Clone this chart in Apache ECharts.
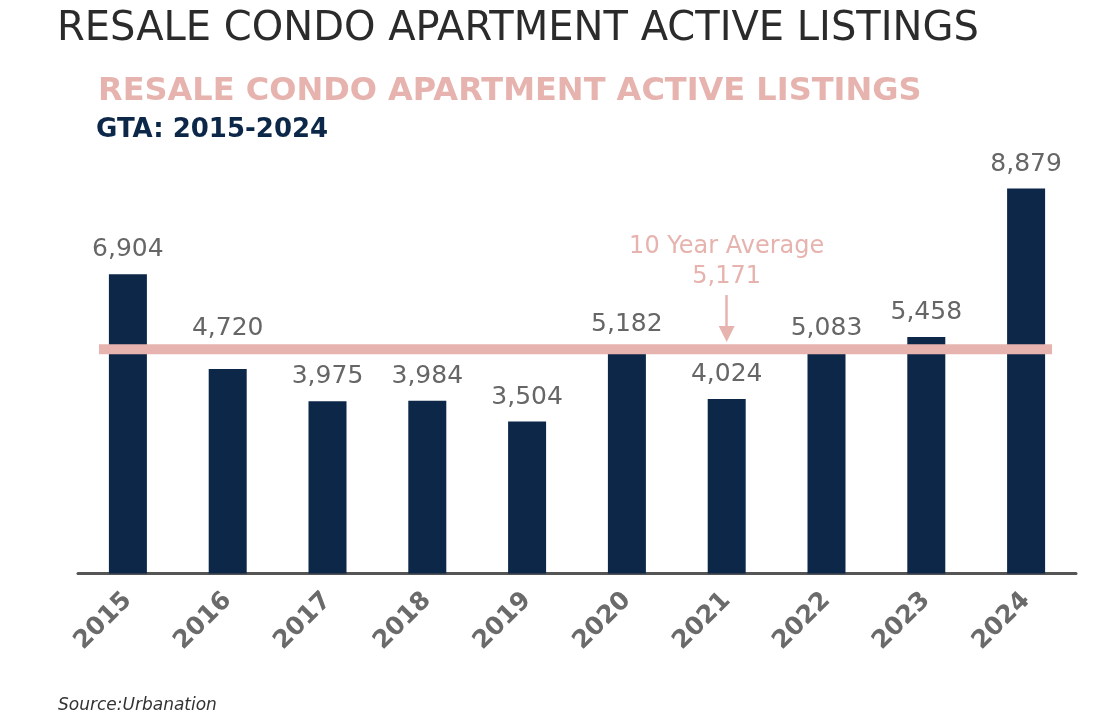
<!DOCTYPE html>
<html>
<head>
<meta charset="utf-8">
<script src="https://cdn.jsdelivr.net/npm/echarts@6/dist/echarts.min.js"></script>
<style>
html,body{margin:0;padding:0;background:#fff;}
#chart{width:1102px;height:726px;}
</style>
</head>
<body>
<div id="chart"></div>
<script>
const years = ['2015','2016','2017','2018','2019','2020','2021','2022','2023','2024'];
const listings = [6904, 4720, 3975, 3984, 3504, 5182, 4024, 5083, 5458, 8879];
const tenYearAverage = 5171;
// extent of the average band and the annotation arrow, in axis units
const avgLineX = [-0.29, 9.26];
const arrowX = 6;
const arrowY = [6423, 5523];
const noteY = 7184;

const fmt = v => String(v).replace(/\B(?=(\d{3})+(?!\d))/g, ',');

const barData = listings.map((v, i) => {
  const item = { value: v };
  if (i === 1) item.label = { distance: 28 };
  return item;
});

const chart = echarts.init(document.getElementById('chart'));
chart.setOption({
  animation: false,
  backgroundColor: '#ffffff',
  title: [
    { text: 'RESALE CONDO APARTMENT ACTIVE LISTINGS', left: 52, top: 5,
      textStyle: { fontFamily: 'DejaVu Sans', fontSize: 40, fontWeight: 'normal', color: '#2b2b2b' } },
    { text: 'RESALE CONDO APARTMENT ACTIVE LISTINGS', left: 93, top: 71,
      textStyle: { fontFamily: 'DejaVu Sans', fontSize: 32, fontWeight: 'bold', color: '#e6b3ae' } },
    { text: 'GTA: 2015-2024', left: 91, top: 112,
      textStyle: { fontFamily: 'DejaVu Sans', fontSize: 26, fontWeight: 'bold', color: '#0c2748' } },
    { text: 'Source:Urbanation', left: 53, top: 692,
      textStyle: { fontFamily: 'DejaVu Sans', fontSize: 17, fontStyle: 'italic', fontWeight: 'normal', color: '#333333' } }
  ],
  grid: { left: 78, right: 26, top: 140, bottom: 152.5, containLabel: false },
  xAxis: [
    { type: 'category', data: years,
      axisLine: { show: true, lineStyle: { color: '#555555', width: 3 } },
      axisTick: { show: false },
      axisLabel: { rotate: 45, margin: 23, fontFamily: 'DejaVu Sans', fontSize: 25, fontWeight: 'bold', color: '#6a6a6a' } },
    { type: 'value', min: -0.5, max: 9.5, show: false }
  ],
  yAxis: { type: 'value', min: 0, max: 10000, show: false, splitLine: { show: false } },
  series: [
    { type: 'bar', data: barData, barWidth: 38, z: 2,
      itemStyle: { color: '#0c2748' },
      label: { show: true, position: 'top', distance: 12, formatter: p => fmt(p.value),
        fontFamily: 'DejaVu Sans', fontSize: 25, color: '#666666' } },
    { type: 'line', xAxisIndex: 1, z: 5, symbol: 'none', silent: true,
      data: avgLineX.map(x => [x, tenYearAverage]),
      lineStyle: { color: '#e6b3ae', width: 10, cap: 'butt' },
      markLine: { silent: true, symbol: ['none', 'triangle'], symbolSize: 16,
        lineStyle: { color: '#e6b3ae', width: 2.5, type: 'solid' },
        label: { show: false },
        data: [[{ coord: [arrowX, arrowY[0]] }, { coord: [arrowX, arrowY[1]] }]] },
      markPoint: { silent: true, symbol: 'circle', symbolSize: 0,
        label: { show: true, position: 'inside', formatter: '10 Year Average\n' + fmt(tenYearAverage),
          fontFamily: 'DejaVu Sans', fontSize: 24, lineHeight: 30, color: '#e6b3ae' },
        data: [{ coord: [arrowX, noteY] }] } }
  ]
});
</script>
</body>
</html>
